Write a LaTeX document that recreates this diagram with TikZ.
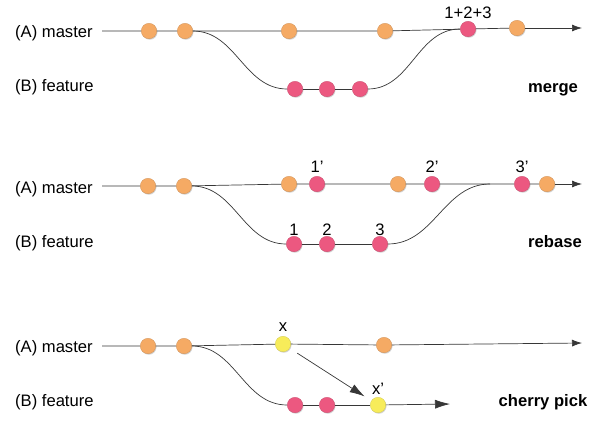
\documentclass[tikz,border=0pt]{standalone}
\usepackage{fontspec}
\setmainfont{Liberation Sans}
\usetikzlibrary{shadows,arrows.meta}
\definecolor{corange}{RGB}{245,170,100}
\definecolor{cpink}{RGB}{236,88,128}
\definecolor{cyellow}{RGB}{247,236,90}
\definecolor{cline}{RGB}{55,55,55}
\begin{document}
\begin{tikzpicture}[x=1pt,y=-1pt,
  commit/.style={circle,minimum size=15.5pt,inner sep=0pt,draw=#1!85!black,line width=0.3pt,fill=#1,
    drop shadow={shadow xshift=0.8pt,shadow yshift=-1pt,opacity=0.35}},
  oc/.style={commit=corange},
  pc/.style={commit=cpink},
  yc/.style={commit=cyellow},
  branch/.style={draw=cline,line width=0.7pt},
  tip/.style={-{Latex[length=10pt,width=7pt]}},
  bigtip/.style={-{Latex[length=15pt,width=9pt]}},
  lbl/.style={font=\fontsize{16.6}{19}\selectfont,inner sep=0pt},
  title/.style={font=\fontsize{16.6}{19}\selectfont\bfseries,inner sep=0pt,anchor=base},
  every label/.style={font=\fontsize{16.6}{19}\selectfont,inner sep=0pt},
]
\useasboundingbox (0,0) rectangle (598,426);

% ---------- merge ----------
\node[lbl,anchor=base west] (ma) at (15,37) {(A) master};
\node[lbl,anchor=base west] (mb) at (15,91) {(B) feature};
\node[title] (mt) at (553,92) {merge};
\coordinate (ms) at (102,31);
\coordinate (me) at (582,28);
\node[oc] (m1) at (149,31) {};
\node[oc] (m2) at (185,31) {};
\node[oc] (m3) at (289,31) {};
\node[oc] (m4) at (385,31) {};
\node[pc,label={[label distance=2pt]above:1+2+3}] (mm) at (468,29) {};
\node[oc] (m5) at (517,28) {};
\node[pc] (mp1) at (295,89) {};
\node[pc] (mp2) at (327,89) {};
\node[pc] (mp3) at (360,89) {};
\draw[branch] (ms) -- (m1) -- (m2) -- (m3) -- (m4) -- (mm) -- (m5);
\draw[branch,tip] (m5) -- (me);
\draw[branch] (m2) to[out=0,in=180] (mp1);
\draw[branch] (mp1) -- (mp2) -- (mp3);
\draw[branch] (mp3) to[out=0,in=180] (mm);

% ---------- rebase ----------
\node[lbl,anchor=base west] (ra) at (15,193) {(A) master};
\node[lbl,anchor=base west] (rb) at (15,247) {(B) feature};
\node[title] (rt) at (555,247) {rebase};
\coordinate (rs) at (102,186);
\coordinate (re) at (582,184);
\coordinate (rj) at (490,184);
\node[oc] (r1) at (148,186) {};
\node[oc] (r2) at (184,186) {};
\node[oc] (r3) at (289,184) {};
\node[pc,label={[label distance=3pt]above:1'}] (r1p) at (317,184) {};
\node[oc] (r4) at (398,184) {};
\node[pc,label={[label distance=3pt]above:2'}] (r2p) at (432,184) {};
\node[pc,label={[label distance=3pt]above:3'}] (r3p) at (522,184) {};
\node[oc] (r5) at (547,184) {};
\node[pc,label={[label distance=0pt]above:1}] (rp1) at (294,244) {};
\node[pc,label={[label distance=0pt]above:2}] (rp2) at (327,244) {};
\node[pc,label={[label distance=0pt]above:3}] (rp3) at (380,244) {};
\draw[branch] (rs) -- (r1) -- (r2) -- (r3) -- (r1p) -- (r4) -- (r2p) -- (r3p) -- (r5);
\draw[branch,tip] (r5) -- (re);
\draw[branch] (r2) to[out=0,in=180] (rp1);
\draw[branch] (rp1) -- (rp2) -- (rp3);
\draw[branch] (rp3) to[out=0,in=180] (rj);

% ---------- cherry pick ----------
\node[lbl,anchor=base west] (ca) at (15,352) {(A) master};
\node[lbl,anchor=base west] (cb) at (15,406) {(B) feature};
\node[title] (ct) at (543,406) {cherry pick};
\coordinate (cs) at (102,346);
\coordinate (ce) at (582,343);
\coordinate (cfe) at (450,404);
\node[oc] (c1) at (148,346) {};
\node[oc] (c2) at (184,346) {};
\node[yc,label={[label distance=4pt]above:x}] (cx) at (283,344) {};
\node[oc] (c3) at (384,345) {};
\node[pc] (cp1) at (295,405) {};
\node[pc] (cp2) at (327,405) {};
\node[yc,label={[label distance=2pt]above:x'}] (cxp) at (378,405) {};
\draw[branch] (cs) -- (c1) -- (c2) -- (cx) -- (c3);
\draw[branch,tip] (c3) -- (ce);
\draw[branch] (c2) to[out=0,in=180] (cp1);
\draw[branch] (cp1) -- (cp2) -- (cxp);
\draw[branch,bigtip] (cxp) -- (cfe);
\draw[branch,bigtip,shorten <=9pt,shorten >=8pt] (cx) -- (cxp);
\end{tikzpicture}
\end{document}
